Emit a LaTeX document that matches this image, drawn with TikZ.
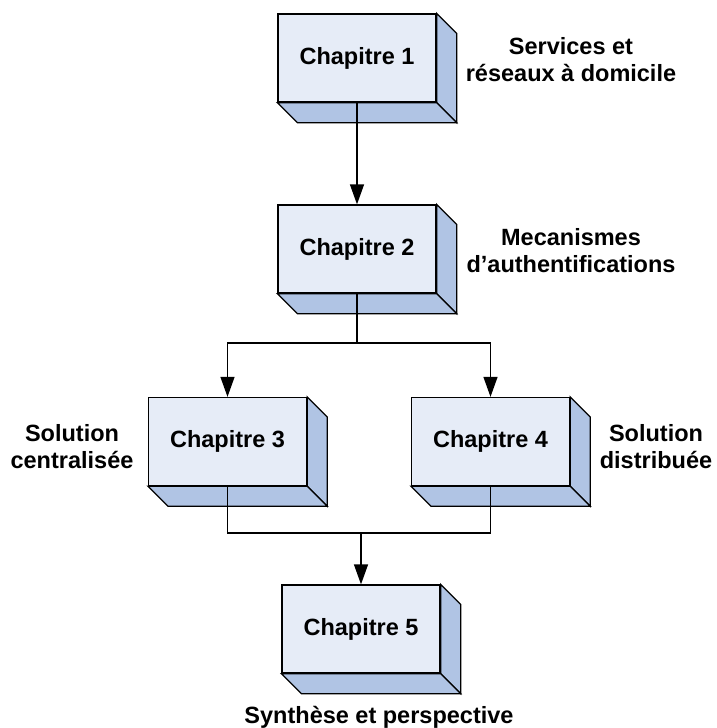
\documentclass[tikz,border=0pt]{standalone}
\usepackage{fontspec}
\setmainfont{Liberation Sans}
\usetikzlibrary{arrows.meta, calc}
\definecolor{boxFront}{RGB}{230,236,247}
\definecolor{boxSide}{RGB}{176,196,228}
\tikzset{
    chapBox/.style={rectangle, draw, fill=boxFront, line width=1.3pt, minimum width=158pt, minimum height=88pt, inner sep=0pt, font=\bfseries\fontsize{23.5}{27}\selectfont},
    chapSide/.style={draw, fill=boxSide, line width=1.3pt, line join=miter},
    chapNote/.style={align=center, inner sep=0pt, font=\bfseries\fontsize{23.5}{27}\selectfont},
    flowLine/.style={line width=1.3pt},
    flowEdge/.style={-{Triangle[width=14pt, length=20pt]}, line width=1.3pt},
}
\newcommand{\drawChap}[3]{
    % face avant
    \node[chapBox] (#1) at (#2) {#3};
    % face droite
    \draw[chapSide] (#1.north east) -- ++(20,20) -- ($(#1.south east)+(20,20)$) -- (#1.south east) -- cycle;
    % face du dessous
    \draw[chapSide] (#1.south west) -- ++(20,20) -- ($(#1.south east)+(20,20)$) -- (#1.south east) -- cycle;
}
\newcommand{\chapLink}[2]{\draw[flowEdge] (#1) -- (#2);}

\begin{document}
\begin{tikzpicture}[x=1pt, y=-1pt]
    \useasboundingbox (0,0) rectangle (716,728);

    \drawChap{ch1}{357,58}{Chapitre 1}
    \drawChap{ch2}{357,249}{Chapitre 2}
    \drawChap{ch3}{227.5,441.5}{Chapitre 3}
    \drawChap{ch4}{490.5,441.5}{Chapitre 4}
    \drawChap{ch5}{361,629}{Chapitre 5}

    \node[chapNote] (note1) at (571,60) {Services et\\réseaux à domicile};
    \node[chapNote] (note2) at (571,251) {Mecanismes\\d’authentifications};
    \node[chapNote] (note3) at (72,447) {Solution\\centralisée};
    \node[chapNote] (note4) at (656,447) {Solution\\distribuée};
    \node[chapNote] (note5) at (379,717) {Synthèse et perspective};

    \coordinate (split) at (357,343);
    \coordinate (merge) at (361,533);

    \chapLink{ch1.south}{ch2.north}
    \draw[flowLine] (ch2.south) -- (split);
    \draw[flowEdge] (split) -| (ch3.north);
    \draw[flowEdge] (split) -| (ch4.north);
    \draw[flowLine] (ch3.south) |- (merge) -| (ch4.south);
    \chapLink{merge}{ch5.north}

\end{tikzpicture}
\end{document}
